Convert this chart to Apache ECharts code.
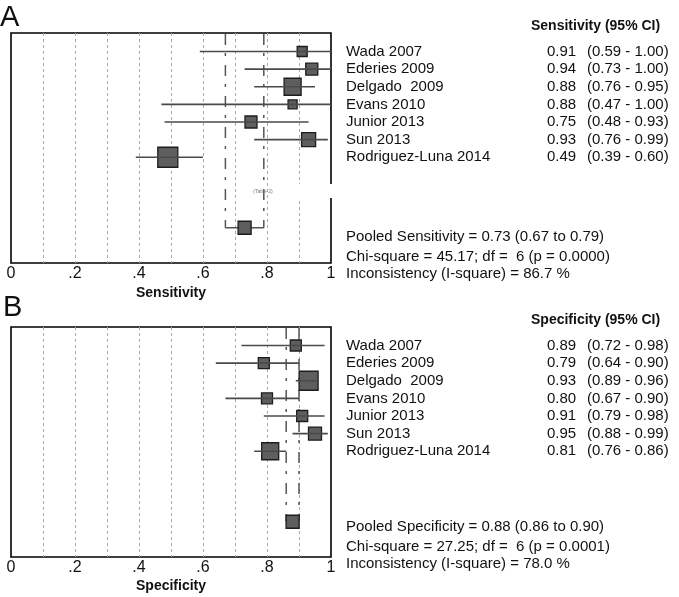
<!DOCTYPE html>
<html><head><meta charset="utf-8">
<script src="https://cdn.jsdelivr.net/npm/echarts@6/dist/echarts.min.js"></script>
<style>html,body{margin:0;padding:0;background:#fff}#c{width:679px;height:597px}</style>
</head><body><div id="c"></div>
<script>
// ---------- data ----------
const studies = ['Wada 2007','Ederies 2009','Delgado  2009','Evans 2010','Junior 2013','Sun 2013','Rodriguez-Luna 2014'];

const sensEst = [0.91,0.94,0.88,0.88,0.75,0.93,0.49];
const sensLo  = [0.59,0.73,0.76,0.47,0.48,0.76,0.39];
const sensHi  = [1.00,1.00,0.95,1.00,0.93,0.99,0.60];
const sensWeight = [10,12,17,9,12,14,20];
const sensPooled = [0.73,0.67,0.79];
const sensPooledWeight = 13;
const sensStats = ['Pooled Sensitivity = 0.73 (0.67 to 0.79)','Chi-square = 45.17; df =  6 (p = 0.0000)','Inconsistency (I-square) = 86.7 %'];

const specEst = [0.89,0.79,0.93,0.80,0.91,0.95,0.81];
const specLo  = [0.72,0.64,0.89,0.67,0.79,0.88,0.76];
const specHi  = [0.98,0.90,0.96,0.90,0.98,0.99,0.86];
const specWeight = [11,11,19,11,11,13,17];
const specPooled = [0.88,0.86,0.90];
const specPooledWeight = 13;
const specStats = ['Pooled Specificity = 0.88 (0.86 to 0.90)','Chi-square = 27.25; df =  6 (p = 0.0001)','Inconsistency (I-square) = 78.0 %'];

const xTicks = [0,0.2,0.4,0.6,0.8,1];
const xTickLabels = ['0','.2','.4','.6','.8','1'];
const pooledRow = 10;

// ---------- chart ----------
const FONT = '"Liberation Sans", Arial, sans-serif';
const chart = echarts.init(document.getElementById('c'), null, {renderer:'canvas'});

function fmt(v){ return v.toFixed(2); }

function studyData(est, lo, hi, w){
  return est.map((e,i)=>[e, i, lo[i], hi[i], w[i]]);
}
function renderStudy(params, api){
  const c = api.coord([api.value(0), api.value(1)]);
  const l = api.coord([api.value(2), api.value(1)]);
  const h = api.coord([api.value(3), api.value(1)]);
  const s = api.value(4);
  return {type:'group', children:[
    {type:'rect', shape:{x:c[0]-s/2, y:c[1]-s/2, width:s, height:s},
     style:{fill:'#5e5e5e', stroke:'#1c1c1c', lineWidth:1.3}},
    {type:'line', shape:{x1:l[0], y1:l[1], x2:h[0], y2:h[1]},
     style:{stroke:'#4a4a4a', lineWidth:1.6}}
  ]};
}
function renderPooled(params, api){
  const row = api.value(1);
  const c = api.coord([api.value(0), row]);
  const lTop = api.coord([api.value(2), -1]);
  const hTop = api.coord([api.value(3), -1]);
  const l = api.coord([api.value(2), row]);
  const h = api.coord([api.value(3), row]);
  const s = api.value(4);
  return {type:'group', children:[
    {type:'line', shape:{x1:lTop[0], y1:lTop[1], x2:l[0], y2:l[1]},
     style:{stroke:'#555', lineWidth:1.5, lineDash:[11,8,3,9]}},
    {type:'line', shape:{x1:hTop[0], y1:hTop[1], x2:h[0], y2:h[1]},
     style:{stroke:'#555', lineWidth:1.5, lineDash:[11,8,3,9]}},
    {type:'line', shape:{x1:l[0], y1:l[1], x2:h[0], y2:h[1]},
     style:{stroke:'#555', lineWidth:1.5}},
    {type:'rect', shape:{x:c[0]-s/2, y:c[1]-s/2, width:s, height:s},
     style:{fill:'#5e5e5e', stroke:'#1c1c1c', lineWidth:1.3}}
  ]};
}

function xAxis(gi, name, gap){
  return {
    type:'value', gridIndex:gi, min:0, max:1, interval:0.1,
    axisLine:{show:false}, axisTick:{show:false},
    axisLabel:{margin:3, color:'#111', fontSize:16, fontFamily:FONT,
      formatter:v=>{const k = xTicks.findIndex(t=>Math.abs(t-v)<1e-6); return k>=0 ? xTickLabels[k] : '';}},
    splitLine:{show:true, showMinLine:false, showMaxLine:false,
      lineStyle:{color:'#aaaaaa', width:1, type:[3,3]}},
    name:name, nameLocation:'middle', nameGap:gap,
    nameTextStyle:{fontWeight:'bold', fontSize:14, color:'#111', fontFamily:FONT}
  };
}
function yAxis(gi){
  return {type:'value', gridIndex:gi, inverse:true, min:-1.05, max:12, show:false};
}

const option = {
  animation:false,
  backgroundColor:'#fff',
  grid:[
    {left:11, top:33, width:320, height:230, show:true, borderColor:'#000', borderWidth:1.6, backgroundColor:'transparent'},
    {left:11, top:327, width:320, height:230, show:true, borderColor:'#000', borderWidth:1.6, backgroundColor:'transparent'}
  ],
  xAxis:[xAxis(0,'Sensitivity',23), xAxis(1,'Specificity',22)],
  yAxis:[yAxis(0), yAxis(1)],
  series:[
    {type:'custom', xAxisIndex:0, yAxisIndex:0, renderItem:renderPooled,
     data:[[sensPooled[0], pooledRow, sensPooled[1], sensPooled[2], sensPooledWeight]]},
    {type:'custom', xAxisIndex:0, yAxisIndex:0, renderItem:renderStudy,
     data:studyData(sensEst, sensLo, sensHi, sensWeight)},
    {type:'custom', xAxisIndex:1, yAxisIndex:1, renderItem:renderPooled,
     data:[[specPooled[0], pooledRow, specPooled[1], specPooled[2], specPooledWeight]]},
    {type:'custom', xAxisIndex:1, yAxisIndex:1, renderItem:renderStudy,
     data:studyData(specEst, specLo, specHi, specWeight)}
  ]
};
chart.setOption(option);

// ---------- text table ----------
const gfx = [];
function txt(x, y, s, opt){
  gfx.push({type:'text', x:x, y:y, z:10, style:Object.assign({text:s, fill:'#111',
    font:'15px '+FONT, verticalAlign:'middle', align:'left'}, opt||{})});
}
function panelText(gi, header, est, lo, hi, stats, statY){
  const top = gi===0 ? 33 : 327;
  txt(531, top-7, header, {font:'bold 14px '+FONT});
  studies.forEach((s,i)=>{
    const y = chart.convertToPixel({gridIndex:gi}, [0, i])[1];
    txt(346, y, s);
    txt(547, y, fmt(est[i]));
    txt(587, y, '(' + fmt(lo[i]) + ' - ' + fmt(hi[i]) + ')');
  });
  stats.forEach((s,k)=> txt(346, statY[k], s));
}
panelText(0, 'Sensitivity (95% CI)', sensEst, sensLo, sensHi, sensStats, [237, 257, 274]);
panelText(1, 'Specificity (95% CI)', specEst, specLo, specHi, specStats, [527, 547, 564]);

// panel letters
txt(0, 18, 'A', {font:'29px '+FONT});
txt(3, 308, 'B', {font:'29px '+FONT});

// "(Table 2)" artifact
gfx.push({type:'rect', shape:{x:295, y:184, width:40, height:14}, z:9, style:{fill:'#fff'}});
txt(263, 192, '(Table 2)', {font:'5px '+FONT, fill:'#777', align:'center'});

chart.setOption({graphic:gfx});
</script>
</body></html>
